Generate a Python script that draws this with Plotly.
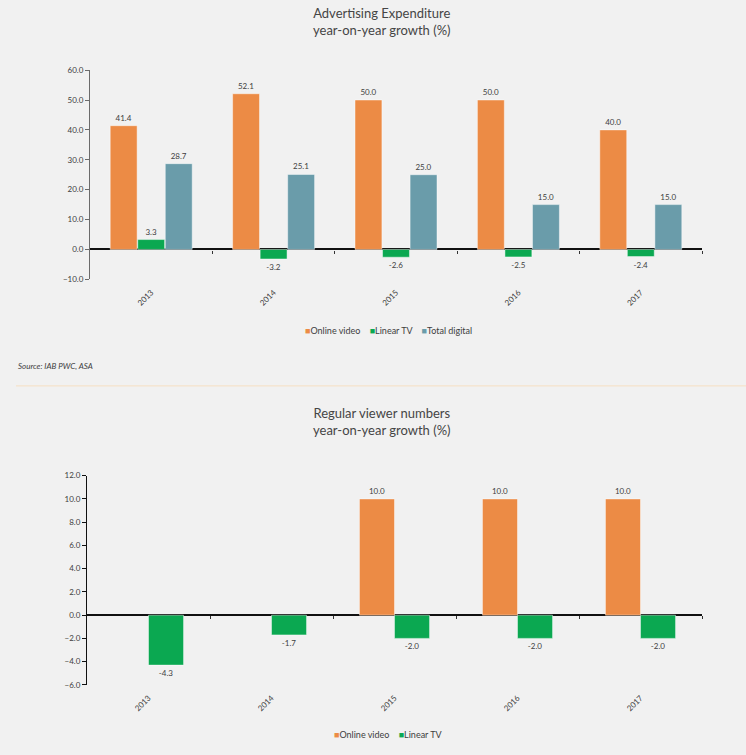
import plotly.graph_objects as go

years = ["2013", "2014", "2015", "2016", "2017"]

# Advertising expenditure, year-on-year growth (%)
ad_online_video = [41.4, 52.1, 50.0, 50.0, 40.0]
ad_linear_tv = [3.3, -3.2, -2.6, -2.5, -2.4]
ad_total_digital = [28.7, 25.1, 25.0, 15.0, 15.0]

# Regular viewer numbers, year-on-year growth (%)
viewer_online_video = [None, None, 10.0, 10.0, 10.0]
viewer_linear_tv = [-4.3, -1.7, -2.0, -2.0, -2.0]

ORANGE = "#ec8b45"
GREEN = "#0ba851"
TEAL = "#6a9caa"
TEXT = "#404040"
FONT = "Lato"

W, H = 746, 755


def px(x=None, y=None):
    # window pixel -> paper fraction
    if x is not None:
        return x / W
    return 1 - y / H


def labels(vals):
    return ["" if v is None else f"{v:.1f}" for v in vals]


def legend_text(items):
    return "&nbsp;&nbsp;&nbsp;&nbsp;".join(
        f"<span style='color:{c}'>■</span>{n}" for n, c in items)


fig = go.Figure()

top_bars = [
    ("Online video", ad_online_video, ORANGE, -0.335),
    ("Linear TV", ad_linear_tv, GREEN, -0.11),
    ("Total digital", ad_total_digital, TEAL, 0.115),
]
for name, vals, color, off in top_bars:
    fig.add_trace(go.Bar(
        x=years, y=vals, name=name, xaxis="x", yaxis="y",
        marker=dict(color=color, line=dict(color="rgba(255,255,255,0.45)", width=1)),
        width=0.22, offset=off,
        text=labels(vals), textposition="outside", cliponaxis=False,
        textfont=dict(size=8, color=TEXT, family=FONT),
    ))

bottom_bars = [
    ("Online video", viewer_online_video, ORANGE, -0.285),
    ("Linear TV", viewer_linear_tv, GREEN, 0.0),
]
for name, vals, color, off in bottom_bars:
    fig.add_trace(go.Bar(
        x=years, y=vals, name=name, xaxis="x2", yaxis="y2",
        marker=dict(color=color, line=dict(color="rgba(255,255,255,0.45)", width=1)),
        width=0.285, offset=off,
        text=labels(vals), textposition="outside", cliponaxis=False,
        textfont=dict(size=8, color=TEXT, family=FONT),
    ))

# empty traces so the overlay axes (marks between year groups) get drawn
for xa, ya in (("x3", "y"), ("x4", "y2")):
    fig.add_trace(go.Scatter(x=[None], y=[None], xaxis=xa, yaxis=ya,
                             mode="markers", hoverinfo="skip", showlegend=False))

xcommon = dict(type="category", showgrid=False, showline=False, ticks="",
               tickangle=-45, tickfont=dict(size=8, color=TEXT, family=FONT),
               ticklabelstandoff=6, fixedrange=True)
ycommon = dict(showgrid=False, showline=True, ticks="outside", ticklen=4,
               tickformat=".1f", zeroline=True, zerolinecolor="#111111",
               zerolinewidth=1.5, tickfont=dict(size=8, color=TEXT, family=FONT))
boundaries = [i + 0.5 for i in range(len(years))]
tickcommon = dict(type="linear", range=[-0.5, len(years) - 0.5], anchor="free",
                  tickvals=boundaries, ticks="outside", ticklen=3,
                  tickcolor="#333333", showticklabels=False, showgrid=False,
                  zeroline=False, showline=False)

fig.update_layout(
    width=W, height=H,
    margin=dict(l=0, r=0, t=0, b=0),
    paper_bgcolor="#f1f1f1", plot_bgcolor="#f1f1f1",
    font=dict(family=FONT, color=TEXT),
    barmode="group",
    showlegend=False,
    xaxis=dict(domain=[px(x=90), px(x=702)], anchor="y", **xcommon),
    yaxis=dict(domain=[px(y=278), px(y=66)], anchor="x", range=[-10, 60],
               dtick=10, linecolor="#6b6b6b", tickcolor="#6b6b6b", **ycommon),
    xaxis2=dict(domain=[px(x=87), px(x=702)], anchor="y2", **xcommon),
    yaxis2=dict(domain=[px(y=689), px(y=477)], anchor="x2", range=[-6, 12],
                dtick=2, linecolor="#111111", tickcolor="#111111", **ycommon),
    xaxis3=dict(overlaying="x", domain=[px(x=90), px(x=702)],
                position=px(y=248), **tickcommon),
    xaxis4=dict(overlaying="x2", domain=[px(x=87), px(x=702)],
                position=px(y=618), **tickcommon),
    annotations=[
        dict(text="Advertising Expenditure<br>year-on-year growth (%)",
             x=px(x=382), y=px(y=17), xref="paper", yref="paper",
             yanchor="middle", showarrow=False,
             font=dict(size=13, color="#454545", family=FONT)),
        dict(text="Regular viewer numbers<br>year-on-year growth (%)",
             x=px(x=382), y=px(y=422), xref="paper", yref="paper",
             yanchor="middle", showarrow=False,
             font=dict(size=13, color="#454545", family=FONT)),
        dict(text="<i>Source: IAB PWC, ASA</i>",
             x=px(x=16), y=px(y=366), xref="paper", yref="paper",
             xanchor="left", yanchor="middle", showarrow=False,
             font=dict(size=8, color=TEXT, family=FONT)),
        dict(text=legend_text([(n, c) for n, _, c, _ in top_bars]),
             x=px(x=388), y=px(y=330), xref="paper", yref="paper",
             yanchor="middle", showarrow=False,
             font=dict(size=9, color=TEXT, family=FONT)),
        dict(text=legend_text([(n, c) for n, _, c, _ in bottom_bars]),
             x=px(x=388), y=px(y=739), xref="paper", yref="paper",
             yanchor="middle", showarrow=False,
             font=dict(size=9, color=TEXT, family=FONT)),
    ],
    shapes=[
        dict(type="line", xref="paper", yref="paper",
             x0=px(x=16), x1=px(x=746), y0=px(y=386), y1=px(y=386),
             line=dict(color="#f6dfc3", width=1)),
    ],
)

# drop the default 8px page margin so the figure fills the window
fig.write_html("out.html", config={"displayModeBar": False},
               post_script="document.body.style.margin='0px';")
